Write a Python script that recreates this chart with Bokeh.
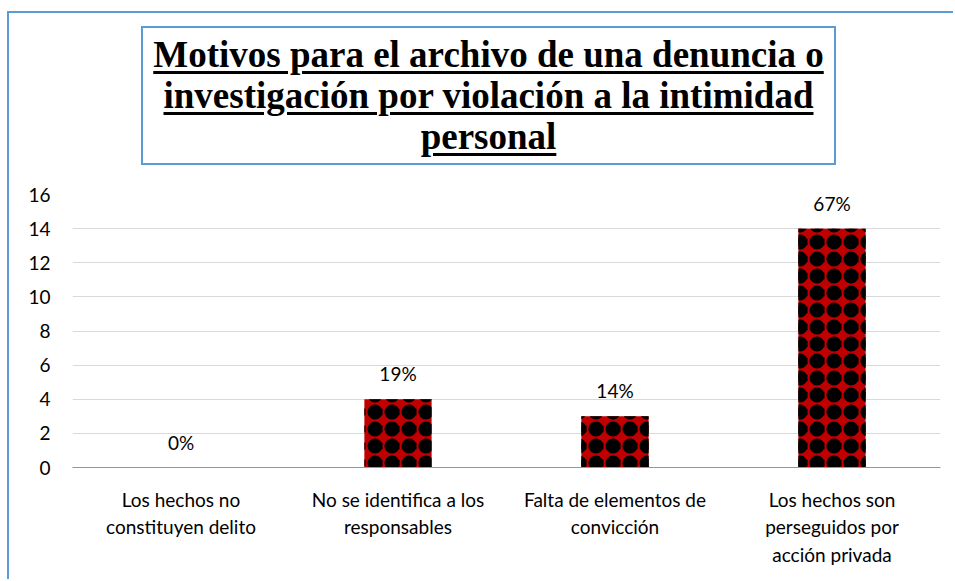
from bokeh.plotting import figure
from bokeh.models import ColumnDataSource, Div, Range1d, FactorRange, FixedTicker
from bokeh.layouts import column
from bokeh.embed import file_html
from bokeh.resources import INLINE
from bokeh.core.properties import value

title_lines = ["Motivos para el archivo de una denuncia o",
               "investigación por violación a la intimidad",
               "personal"]
categories = ["Los hechos no\nconstituyen delito",
              "No se identifica a los\nresponsables",
              "Falta de elementos de\nconvicción",
              "Los hechos son\nperseguidos por\nacción privada"]
counts = [0, 4, 3, 14]
pct_labels = ["0%", "19%", "14%", "67%"]
y_ticks = [0, 2, 4, 6, 8, 10, 12, 14, 16]

FONT = "Lato"

src = ColumnDataSource(data=dict(cat=categories, n=counts, lab=pct_labels))

p = figure(x_range=FactorRange(*categories), y_range=Range1d(0, 16),
           width=944, height=414, output_backend="svg", toolbar_location=None,
           min_border_left=63, min_border_right=13, min_border_top=29, min_border_bottom=112)
p.outline_line_color = None
p.background_fill_color = "white"
p.border_fill_color = "white"

# red bars with a black checker-like pattern (ring + dot hatch layers)
p.vbar(x="cat", top="n", width=0.31, source=src,
       fill_color="#c00000", line_color=None,
       hatch_pattern="ring", hatch_color="black",
       hatch_scale=17, hatch_weight=6.6)
p.vbar(x="cat", top="n", width=0.31, source=src,
       fill_color=None, line_color=None,
       hatch_pattern="dot", hatch_color="black",
       hatch_scale=17, hatch_weight=1)

p.text(x="cat", y="n", text="lab", source=src, text_align="center",
       text_baseline="bottom", y_offset=-14, text_font=value(FONT),
       text_font_size="19px", text_color="black")

p.xgrid.grid_line_color = None
p.ygrid.ticker = FixedTicker(ticks=[t for t in y_ticks if t > 0])
p.ygrid.grid_line_color = "#d9d9d9"
p.ygrid.grid_line_width = 1
p.yaxis.ticker = y_ticks
p.yaxis.axis_line_color = None
p.yaxis.major_tick_line_color = None
p.yaxis.minor_tick_line_color = None
p.yaxis.major_label_standoff = 16
p.yaxis.major_label_text_font = FONT
p.yaxis.major_label_text_font_size = "19px"
p.yaxis.major_label_text_color = "black"

p.xaxis.axis_line_color = "#ed7d31"
p.xaxis.axis_line_width = 1.2
p.xaxis.major_tick_line_color = None
p.xaxis.major_label_standoff = 14
p.xaxis.major_label_text_font = FONT
p.xaxis.major_label_text_font_size = "19px"
p.xaxis.major_label_text_color = "black"
p.xaxis.major_label_text_line_height = 1.2
p.x_range.range_padding = 0.0

title_html = ("<div style=\"border:2px solid #5b9bd5; width:691px; height:129px; "
              "box-sizing:content-box; text-align:center; "
              "font-family:'Liberation Serif','Times New Roman',serif !important; "
              "font-weight:bold; font-size:37px; line-height:41px; color:black; padding-top:6px; "
              "text-decoration:underline; text-decoration-thickness:3px; text-underline-offset:4px;\">"
              + "<br>".join(title_lines) + "</div>")
div = Div(text=title_html, width=700, height=139, margin=(13, 0, 0, 132))

layout = column(div, p, spacing=0, margin=(11, 0, 0, 7),
                styles={"border-left": "2px solid #5b9bd5", "border-top": "2px solid #5b9bd5"})

open("out.html", "w").write(file_html(layout, INLINE))
